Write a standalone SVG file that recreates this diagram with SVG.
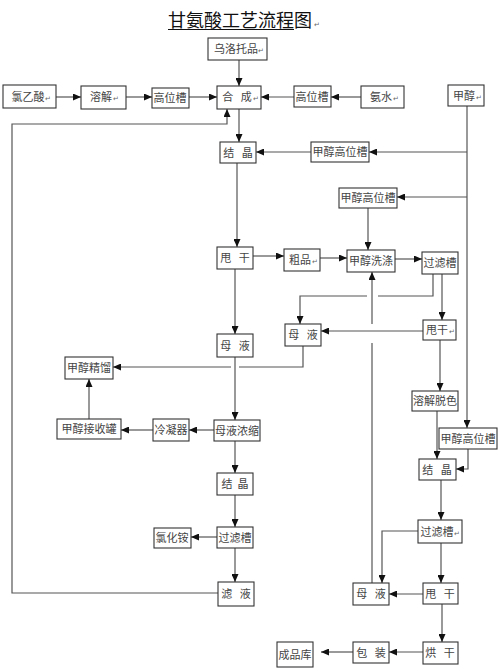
<svg xmlns="http://www.w3.org/2000/svg" width="500" height="671" viewBox="0 0 500 671">
<style>
.b{fill:#fff;stroke:#333;stroke-width:1.1}
.t{font-family:"Noto Sans CJK SC","Liberation Serif",serif;font-size:11px;fill:#444;text-anchor:middle;white-space:pre}
.r{font-family:"DejaVu Sans",sans-serif;font-size:7px;fill:#666}
.c{fill:none;stroke:#555;stroke-width:1.2}
.ttl{font-family:"Noto Sans CJK SC","Liberation Serif",serif;font-size:18px;fill:#111}
</style>
<defs>
<marker id="a" markerUnits="userSpaceOnUse" markerWidth="8" markerHeight="7" refX="8" refY="3.5" orient="auto">
<path d="M0,0 L8,3.5 L0,7 z" fill="#111"/>
</marker>
</defs>
<rect width="500" height="671" fill="#fff"/>
<g id="title">
<text class="ttl" x="168" y="27">甘氨酸工艺流程图<tspan class="r" dx="2">↵</tspan></text>
<line x1="168" y1="29.5" x2="294" y2="29.5" stroke="#111" stroke-width="1"/>
</g>

<g id="connectors" class="c">
<path d="M56,97 H81" marker-end="url(#a)"/>
<path d="M126,97 H152" marker-end="url(#a)"/>
<path d="M189,97 H217" marker-end="url(#a)"/>
<path d="M239,60 V86" marker-end="url(#a)"/>
<path d="M294,97 H261" marker-end="url(#a)"/>
<path d="M361,97 H331" marker-end="url(#a)"/>
<path d="M467,106 V428" marker-end="url(#a)"/>
<path d="M467,152 H369" marker-end="url(#a)"/>
<path d="M467,197 H397" marker-end="url(#a)"/>
<path d="M311,152 H256" marker-end="url(#a)"/>
<path d="M218,593 H12 V124 H227 V109" marker-end="url(#a)"/>
<path d="M239,109 V142" marker-end="url(#a)"/>
<path d="M237,163 V247" marker-end="url(#a)"/>
<path d="M368,208 V250" marker-end="url(#a)"/>
<path d="M253,256 H284" marker-end="url(#a)"/>
<path d="M320,258 H347" marker-end="url(#a)"/>
<path d="M395,259 H422" marker-end="url(#a)"/>
<path d="M433,274 V296 H378"/>
<path d="M367,296 H300 V324" marker-end="url(#a)"/>
<path d="M442,274 V320" marker-end="url(#a)"/>
<path d="M423,331 H321" marker-end="url(#a)"/>
<path d="M372,583 V343"/>
<path d="M372,324 V272" marker-end="url(#a)"/>
<path d="M235,269 V334" marker-end="url(#a)"/>
<path d="M303,346 V367 H239"/>
<path d="M231,367 H113" marker-end="url(#a)"/>
<path d="M235,357 V420" marker-end="url(#a)"/>
<path d="M214,430 H189" marker-end="url(#a)"/>
<path d="M153,430 H121" marker-end="url(#a)"/>
<path d="M89,419 V379" marker-end="url(#a)"/>
<path d="M235,441 V473" marker-end="url(#a)"/>
<path d="M235,495 V527" marker-end="url(#a)"/>
<path d="M217,537 H191" marker-end="url(#a)"/>
<path d="M235,548 V582" marker-end="url(#a)"/>
<path d="M440,340 V391" marker-end="url(#a)"/>
<path d="M437,411 V459" marker-end="url(#a)"/>
<path d="M468,449 V469 H456" marker-end="url(#a)"/>
<path d="M441,480 V520" marker-end="url(#a)"/>
<path d="M418,531 H382 V583" marker-end="url(#a)"/>
<path d="M441,543 V583" marker-end="url(#a)"/>
<path d="M423,594 H389" marker-end="url(#a)"/>
<path d="M442,604 V642" marker-end="url(#a)"/>
<path d="M423,652 H389" marker-end="url(#a)"/>
<path d="M353,652 H321" marker-end="url(#a)"/>
</g>

<g id="wuluotuopin"><rect class="b" x="208" y="38" width="59" height="22"/><text class="t" x="236" y="53">乌洛托品</text><text class="r" x="258" y="53">↵</text></g>
<g id="lvyisuan"><rect class="b" x="3" y="85" width="53" height="23"/><text class="t" x="28" y="101">氯乙酸</text><text class="r" x="45" y="101">↵</text></g>
<g id="rongjie"><rect class="b" x="81" y="86" width="45" height="23"/><text class="t" x="101" y="101">溶解</text><text class="r" x="113" y="101">↵</text></g>
<g id="gaoweicao1"><rect class="b" x="152" y="88" width="37" height="20"/><text class="t" x="170" y="102">高位槽</text></g>
<g id="hecheng"><rect class="b" x="217" y="86" width="44" height="23"/><text class="t" x="237" y="101">合   成</text><text class="r" x="253" y="101">↵</text></g>
<g id="gaoweicao2"><rect class="b" x="294" y="86" width="37" height="21"/><text class="t" x="312" y="101">高位槽</text></g>
<g id="anshui"><rect class="b" x="361" y="86" width="43" height="22"/><text class="t" x="381" y="101">氨水</text><text class="r" x="393" y="101">↵</text></g>
<g id="jiachun"><rect class="b" x="448" y="85" width="36" height="21"/><text class="t" x="464" y="100">甲醇</text><text class="r" x="476" y="100">↵</text></g>
<g id="jiejing1"><rect class="b" x="220" y="142" width="36" height="21"/><text class="t" x="238" y="157">结   晶</text></g>
<g id="jcgwc1"><rect class="b" x="311" y="142" width="58" height="20"/><text class="t" x="340" y="156">甲醇高位槽</text></g>
<g id="jcgwc2"><rect class="b" x="339" y="188" width="58" height="20"/><text class="t" x="368" y="202">甲醇高位槽</text></g>
<g id="shuaigan1"><rect class="b" x="217" y="247" width="36" height="22"/><text class="t" x="235" y="262">甩   干</text></g>
<g id="cupin"><rect class="b" x="284" y="249" width="36" height="22"/><text class="t" x="300" y="264">粗品</text><text class="r" x="312" y="264">↵</text></g>
<g id="jcxd"><rect class="b" x="347" y="250" width="48" height="22"/><text class="t" x="371" y="265">甲醇洗涤</text></g>
<g id="guolvcao1"><rect class="b" x="422" y="252" width="36" height="22"/><text class="t" x="440" y="267">过滤槽</text></g>
<g id="shuaigan2"><rect class="b" x="423" y="320" width="33" height="20"/><text class="t" x="437" y="334">甩干</text><text class="r" x="449" y="334">↵</text></g>
<g id="muye2"><rect class="b" x="285" y="324" width="36" height="22"/><text class="t" x="303" y="339">母   液</text></g>
<g id="muye1"><rect class="b" x="217" y="334" width="36" height="23"/><text class="t" x="235" y="350">母   液</text></g>
<g id="jcjl"><rect class="b" x="65" y="357" width="48" height="22"/><text class="t" x="89" y="372">甲醇精馏</text></g>
<g id="rjts"><rect class="b" x="412" y="391" width="46" height="20"/><text class="t" x="435" y="405">溶解脱色</text></g>
<g id="myns"><rect class="b" x="214" y="420" width="46" height="21"/><text class="t" x="237" y="435">母液浓缩</text></g>
<g id="lengningqi"><rect class="b" x="153" y="419" width="36" height="22"/><text class="t" x="171" y="434">冷凝器</text></g>
<g id="jcjsg"><rect class="b" x="57" y="419" width="64" height="20"/><text class="t" x="89" y="433">甲醇接收罐</text></g>
<g id="jcgwc3"><rect class="b" x="439" y="428" width="58" height="21"/><text class="t" x="468" y="443">甲醇高位槽</text></g>
<g id="jiejing4"><rect class="b" x="419" y="459" width="37" height="21"/><text class="t" x="437" y="474">结   晶</text></g>
<g id="jiejing3"><rect class="b" x="217" y="473" width="36" height="22"/><text class="t" x="235" y="488">结  晶</text></g>
<g id="guolvcao4"><rect class="b" x="418" y="520" width="44" height="23"/><text class="t" x="437" y="536">过滤槽</text><text class="r" x="454" y="536">↵</text></g>
<g id="guolvcao3"><rect class="b" x="217" y="527" width="36" height="21"/><text class="t" x="235" y="542">过滤槽</text></g>
<g id="lvhuaan"><rect class="b" x="154" y="528" width="37" height="20"/><text class="t" x="172" y="542">氯化铵</text></g>
<g id="lvye"><rect class="b" x="218" y="582" width="36" height="24"/><text class="t" x="236" y="598">滤   液</text></g>
<g id="muye3"><rect class="b" x="353" y="583" width="36" height="22"/><text class="t" x="371" y="598">母   液</text></g>
<g id="shuaigan3"><rect class="b" x="423" y="583" width="35" height="21"/><text class="t" x="440" y="598">甩   干</text></g>
<g id="honggan"><rect class="b" x="423" y="642" width="35" height="22"/><text class="t" x="440" y="657">烘   干</text></g>
<g id="baozhuang"><rect class="b" x="353" y="642" width="36" height="21"/><text class="t" x="371" y="657">包   装</text></g>
<g id="chengpinku"><rect class="b" x="277" y="642" width="36" height="25"/><text class="t" x="295" y="659">成品库</text></g>
</svg>
